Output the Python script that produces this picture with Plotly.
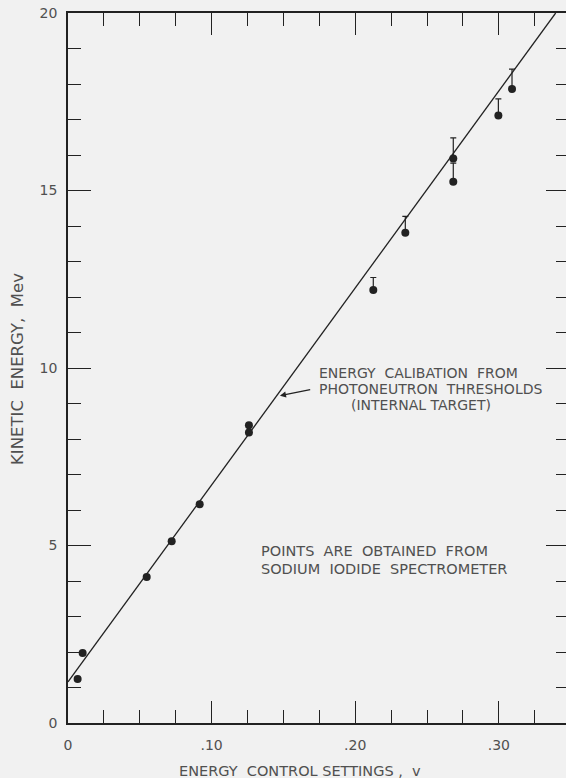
import plotly.graph_objects as go

# ---- data ----
v_setting = [0.0067, 0.0102, 0.0548, 0.0722, 0.0917, 0.1260, 0.1260,
             0.2126, 0.2349, 0.2683, 0.2683, 0.2997, 0.3092]
kinetic_mev = [1.24, 1.97, 4.11, 5.12, 6.16, 8.39, 8.18,
               12.20, 13.81, 15.90, 15.25, 17.11, 17.86]
err_upper = [0, 0, 0, 0, 0, 0, 0,
             0.35, 0.46, 0.58, 0.52, 0.47, 0.56]

calib_intercept = 1.156
calib_slope = 55.49

x_tickvals = [0, 0.10, 0.20, 0.30]
x_ticktext = ["0", ".10", ".20", ".30"]
y_tickvals = [0, 5, 10, 15, 20]
y_ticktext = ["0", "5", "10", "15", "20"]

x_range = [0, 0.3468]
y_range = [0, 20]

INK = "#222222"
TXT = "#505050"
BG = "#f1f1f1"
FONT = "DejaVu Sans"

fig = go.Figure()

# calibration line from the left axis up to the top of the frame
x_end = (y_range[1] - calib_intercept) / calib_slope
fig.add_trace(go.Scatter(
    x=[0, x_end],
    y=[calib_intercept, calib_intercept + calib_slope * x_end],
    mode="lines", line=dict(color=INK, width=1.3),
    hoverinfo="skip", showlegend=False))

# points with an upper error bar
ex = [x for x, e in zip(v_setting, err_upper) if e > 0]
ey = [y for y, e in zip(kinetic_mev, err_upper) if e > 0]
ee = [e for e in err_upper if e > 0]
fig.add_trace(go.Scatter(
    x=ex, y=ey, mode="markers",
    marker=dict(color=INK, size=8),
    error_y=dict(type="data", symmetric=False, array=ee,
                 arrayminus=[0] * len(ee), color=INK,
                 thickness=1.2, width=3),
    showlegend=False))

# points without error bars
nx = [x for x, e in zip(v_setting, err_upper) if e == 0]
ny = [y for y, e in zip(kinetic_mev, err_upper) if e == 0]
fig.add_trace(go.Scatter(
    x=nx, y=ny, mode="markers",
    marker=dict(color=INK, size=8), showlegend=False))

# invisible trace to carry the right-hand tick axis
fig.add_trace(go.Scatter(x=[0], y=[0], yaxis="y2", mode="markers",
                         marker=dict(opacity=0), hoverinfo="skip",
                         showlegend=False))

tick_font = dict(family=FONT, size=14, color=TXT)

fig.update_layout(
    width=566, height=778,
    margin=dict(l=68, r=0, t=13, b=55),
    paper_bgcolor=BG, plot_bgcolor=BG,
    showlegend=False,
    xaxis=dict(
        range=x_range, showgrid=False, zeroline=False,
        showline=True, linecolor=INK, linewidth=1.5, mirror="ticks",
        ticks="inside", ticklen=22, tickwidth=1.2, tickcolor=INK,
        tickvals=x_tickvals, ticktext=x_ticktext, tickfont=tick_font,
        ticklabelstandoff=8,
        minor=dict(ticks="inside", ticklen=13, dtick=0.025, tick0=0,
                   tickwidth=1.2, tickcolor=INK, showgrid=False),
    ),
    yaxis=dict(
        range=y_range, showgrid=False, zeroline=False,
        showline=True, linecolor=INK, linewidth=1.5, mirror=False,
        ticks="inside", ticklen=23, tickwidth=1.2, tickcolor=INK,
        tickvals=y_tickvals, ticktext=y_ticktext, tickfont=tick_font,
        ticklabelstandoff=6,
        minor=dict(ticks="inside", ticklen=13, dtick=1, tick0=0,
                   tickwidth=1.2, tickcolor=INK, showgrid=False),
    ),
    yaxis2=dict(
        range=y_range, overlaying="y", side="right", anchor="x",
        showgrid=False, zeroline=False, showline=False,
        showticklabels=False,
        ticks="inside", ticklen=20, tickwidth=1.2, tickcolor=INK,
        tickvals=y_tickvals,
        minor=dict(ticks="inside", ticklen=10, dtick=1, tick0=0,
                   tickwidth=1.2, tickcolor=INK, showgrid=False),
    ),
)

ann_font = dict(family=FONT, size=14, color=TXT)


def px_to_y(py):
    # pixel row in the 778-high frame -> data y (axis 0 at 722.7, 35.47 px/unit)
    return (722.7 - py) / 35.47


# calibration line label (three lines)
fig.add_annotation(x=0.174, y=px_to_y(372.5), xref="x", yref="y",
                   xanchor="left", borderpad=0,
                   text="ENERGY  CALIBATION  FROM", showarrow=False,
                   font=ann_font)
fig.add_annotation(x=0.174, y=px_to_y(388.7), xref="x", yref="y",
                   xanchor="left", borderpad=0,
                   text="PHOTONEUTRON  THRESHOLDS", showarrow=False,
                   font=ann_font)
fig.add_annotation(x=0.2456, y=px_to_y(404.9), xref="x", yref="y",
                   xanchor="center", borderpad=0,
                   text="(INTERNAL TARGET)", showarrow=False,
                   font=ann_font)
# arrow pointing at the line
fig.add_annotation(x=0.1476, y=9.22, ax=0.1697, ay=9.40,
                   xref="x", yref="y", axref="x", ayref="y",
                   text="", showarrow=True, arrowhead=2, arrowsize=1.1,
                   arrowwidth=1.1, arrowcolor=INK)

# note about the points
note_font = dict(family=FONT, size=14.5, color=TXT)
fig.add_annotation(x=0.1337, y=px_to_y(551.2), xref="x", yref="y",
                   xanchor="left", borderpad=0,
                   text="POINTS  ARE  OBTAINED  FROM", showarrow=False,
                   font=note_font)
fig.add_annotation(x=0.1337, y=px_to_y(568.6), xref="x", yref="y",
                   xanchor="left", borderpad=0,
                   text="SODIUM  IODIDE  SPECTROMETER", showarrow=False,
                   font=note_font)

# axis titles (paper coordinates so they can sit outside the plot area)
fig.add_annotation(x=0.466, y=-0.0676, xref="paper", yref="paper",
                   xanchor="center", yanchor="middle",
                   text="ENERGY  CONTROL SETTINGS ,  v", showarrow=False,
                   borderpad=0,
                   font=dict(family=FONT, size=14.5, color=TXT))
fig.add_annotation(x=-0.1004, y=0.4986, xref="paper", yref="paper",
                   xanchor="center", yanchor="middle", textangle=-90,
                   text="KINETIC  ENERGY,  Mev", showarrow=False,
                   borderpad=0,
                   font=dict(family=FONT, size=16.5, color=TXT))

fig.write_html(
    "out.html",
    config={"displayModeBar": False},
    post_script="document.body.style.margin='0';"
                "document.body.style.overflow='hidden';")
